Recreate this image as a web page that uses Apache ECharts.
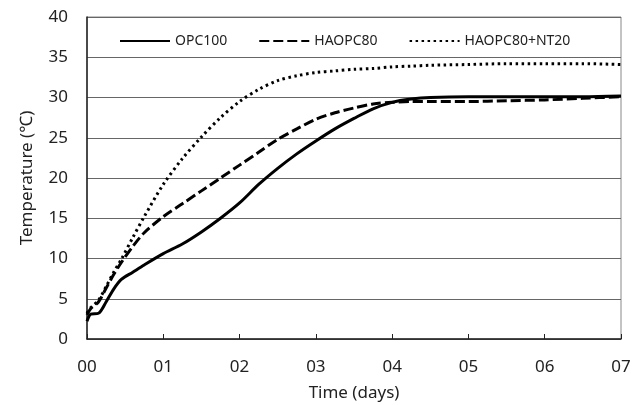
<!DOCTYPE html>
<html>
<head>
<meta charset="utf-8">
<script src="https://cdn.jsdelivr.net/npm/echarts@6/dist/echarts.min.js"></script>
<style>
  html, body { margin: 0; padding: 0; background: #fff; }
  #chart { width: 642px; height: 405px; }
</style>
</head>
<body>
<div id="chart"></div>
<script>
// time in days
var days = [0, 0.05, 0.15, 0.25, 0.35, 0.45, 0.6, 0.75, 1.0, 1.25, 1.5, 1.75, 2.0, 2.25,
            2.5, 2.75, 3.0, 3.25, 3.5, 3.75, 4.0, 4.25, 4.5, 5.0, 5.5, 6.0, 6.5, 7.0];

var opc100 = [2.2, 3.1, 3.2, 4.6, 6.2, 7.4, 8.3, 9.2, 10.6, 11.8, 13.3, 15.0, 16.9, 19.2,
              21.2, 23.0, 24.6, 26.1, 27.4, 28.6, 29.4, 29.8, 30.0, 30.1, 30.1, 30.1, 30.1, 30.2];

var haopc80 = [3.0, 3.8, 4.6, 6.3, 8.0, 9.5, 11.5, 13.2, 15.2, 16.8, 18.4, 20.0, 21.6, 23.2,
               24.8, 26.1, 27.3, 28.1, 28.7, 29.2, 29.4, 29.5, 29.5, 29.5, 29.6, 29.7, 29.9, 30.1];

var haopc80nt20 = [3.2, 3.9, 4.8, 6.5, 8.3, 9.9, 12.6, 15.2, 19.2, 22.4, 25.1, 27.5, 29.5, 31.0,
                   32.1, 32.7, 33.1, 33.3, 33.5, 33.6, 33.8, 33.9, 34.0, 34.1, 34.2, 34.2, 34.2, 34.1];

var seriesNames = ['OPC100', 'HAOPC80', 'HAOPC80+NT20'];

function pairs(vals) {
    var out = [];
    for (var i = 0; i < days.length; i++) {
        out.push([days[i], vals[i]]);
    }
    return out;
}

var font = 'Noto Sans';
var chart = echarts.init(document.getElementById('chart'));

function lineSeries(name, vals, style) {
    return {
        name: name,
        type: 'line',
        smooth: 0.3,
        symbol: 'none',
        data: pairs(vals),
        lineStyle: style,
        itemStyle: { color: '#000' }
    };
}

var option = {
    animation: false,
    textStyle: { fontFamily: font },
    grid: {
        left: 87,
        right: 21,
        top: 17,
        bottom: 66,
        outerBoundsMode: 'none',
        show: true,
        borderColor: '#888',
        borderWidth: 1
    },
    legend: {
        top: 29,
        left: 114,
        itemWidth: 50,
        itemHeight: 10,
        itemGap: 31,
        itemStyle: { opacity: 0 },
        textStyle: { fontSize: 14, color: '#222', fontFamily: font },
        data: seriesNames
    },
    xAxis: {
        type: 'value',
        min: 0,
        max: 7,
        interval: 1,
        name: 'Time (days)',
        nameLocation: 'middle',
        nameGap: 46,
        nameTextStyle: { fontSize: 17, color: '#222' },
        axisLine: { lineStyle: { color: '#222', width: 1.5 } },
        axisTick: { inside: true, length: 5, lineStyle: { color: '#222' } },
        axisLabel: {
            fontSize: 17,
            color: '#222',
            margin: 20,
            formatter: function (v) { return (v < 10 ? '0' : '') + v; }
        },
        splitLine: { show: false }
    },
    yAxis: {
        type: 'value',
        min: 0,
        max: 40,
        interval: 5,
        name: 'Temperature (\u2103)',
        nameLocation: 'middle',
        nameGap: 51,
        nameTextStyle: { fontSize: 17, color: '#222' },
        axisLine: { show: true, lineStyle: { color: '#222', width: 1.5 } },
        axisTick: { show: false },
        axisLabel: { fontSize: 17, color: '#222', margin: 19 },
        splitLine: { lineStyle: { color: '#666', width: 1 } }
    },
    series: [
        lineSeries(seriesNames[0], opc100, { color: '#000', width: 3 }),
        lineSeries(seriesNames[1], haopc80, { color: '#000', width: 3, type: [10, 4] }),
        lineSeries(seriesNames[2], haopc80nt20, { color: '#000', width: 3, type: [2.5, 3.5] })
    ]
};

chart.setOption(option);
</script>
</body>
</html>
